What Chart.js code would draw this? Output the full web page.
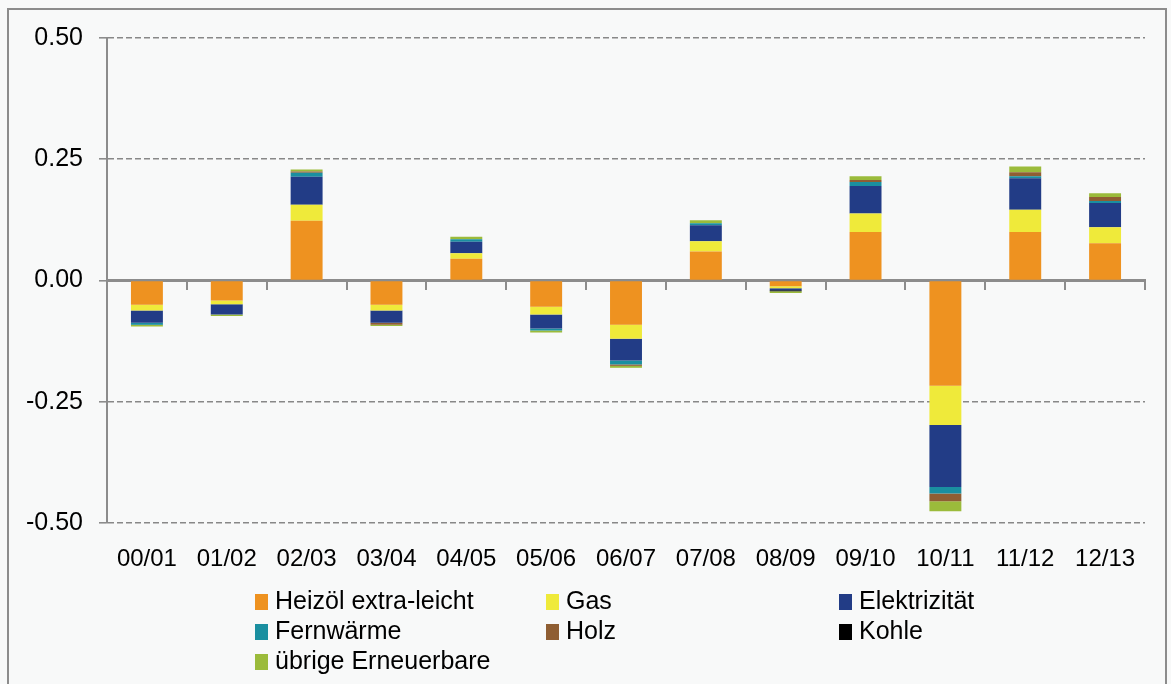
<!DOCTYPE html>
<html>
<head>
<meta charset="utf-8">
<script src="https://cdn.jsdelivr.net/npm/chart.js@4.4.1/dist/chart.umd.min.js"></script>
<style>
body{margin:0;background:#f8f9f9;font-family:"Liberation Sans",Arial,sans-serif;}
#frame{position:absolute;left:7px;top:8px;width:1160px;height:690px;border:2px solid #8c8c8c;box-sizing:border-box;}
#wrap{position:absolute;left:0;top:0;width:1171px;height:684px;}
.lg{position:absolute;font-size:25px;color:#000;line-height:28px;white-space:nowrap;}
.lg span{display:inline-block;width:13px;height:16px;margin-right:7px;vertical-align:-1px;}
</style>
</head>
<body>
<div id="frame"></div>
<div id="wrap"><canvas id="chart" width="1171" height="684"></canvas></div>
<div id="legend"></div>
<script>
const years = ["00/01","01/02","02/03","03/04","04/05","05/06","06/07","07/08","08/09","09/10","10/11","11/12","12/13"]

const heizoel = [-0.050,-0.041,0.123,-0.050,0.045,-0.054,-0.091,0.060,-0.012,0.100,-0.217,0.100,0.077]
const gas = [-0.012,-0.008,0.033,-0.012,0.011,-0.016,-0.029,0.021,-0.004,0.038,-0.081,0.046,0.033]
const elektrizitaet = [-0.025,-0.021,0.058,-0.025,0.024,-0.029,-0.045,0.033,-0.004,0.057,-0.128,0.065,0.050]
const fernwaerme = [-0.004,0,0.008,0,0.005,-0.004,-0.008,0.004,0,0.008,-0.013,0.004,0.004]
const holz = [0,0,0.003,-0.004,0,0,-0.003,0,0,0.004,-0.016,0.008,0.008]
const kohle = [-0.001,0,0,0,0,0,0,0,-0.002,0,0,0,0]
const erneuerbare = [-0.003,-0.003,0.004,-0.003,0.005,-0.004,-0.004,0.006,-0.004,0.008,-0.021,0.012,0.008]

const yTicks = [-0.5,-0.25,0,0.25,0.5]

const series = [
{label:"Heizöl extra-leicht", data:heizoel, color:"#ee9220"},
{label:"Gas", data:gas, color:"#efea3a"},
{label:"Elektrizität", data:elektrizitaet, color:"#223c86"},
{label:"Fernwärme", data:fernwaerme, color:"#1a8fa0"},
{label:"Holz", data:holz, color:"#8f5e33"},
{label:"Kohle", data:kohle, color:"#000000"},
{label:"übrige Erneuerbare", data:erneuerbare, color:"#9bbb3b"}
]

// legend positions (3 columns)
const legendPos = [[255,586],[546,586],[839,586],[255,616],[546,616],[839,616],[255,646]]
const legend = document.getElementById("legend")
series.forEach((s,i) => {
const d = document.createElement("div")
d.className = "lg"
d.style.left = legendPos[i][0] + "px"
d.style.top = legendPos[i][1] + "px"
d.innerHTML = '<span style="background:' + s.color + '"></span>' + s.label
legend.appendChild(d)
})

const ctx = document.getElementById("chart").getContext("2d")

new Chart(ctx, {
type: "bar",
data: {
labels: years,
datasets: series.map(s => ({
label: s.label,
data: s.data,
backgroundColor: s.color,
borderWidth: 0,
stack: "a"
}))
},
options: {
responsive: false,
animation: false,
layout: {padding: {top: 38, right: 26, left: 0, bottom: 106}},
plugins: {legend: {display: false}, tooltip: {enabled: false}},
datasets: {bar: {barPercentage: 1, categoryPercentage: 0.4}},
scales: {
x: {
type: "category",
stacked: true,
position: {y: 0},
offset: true,
ticks: {display: false},
grid: {offset: true, drawOnChartArea: false, drawTicks: true, tickLength: 8, color: "#8c8c8c", lineWidth: 2},
border: {color: "#8c8c8c", width: 3}
},
x2: {
type: "category",
position: "bottom",
offset: true,
grid: {display: false},
border: {display: false},
ticks: {color: "#000", font: {size: 24, family: "Liberation Sans"}, padding: 14},
afterFit: s => { s.height = 55 }
},
y: {
stacked: true,
min: -0.5,
max: 0.5,
afterBuildTicks: s => { s.ticks = yTicks.map(v => ({value: v})) },
afterFit: s => { s.width = 107 },
ticks: {
color: "#000",
font: {size: 25, family: "Liberation Sans"},
padding: 16,
callback: v => Number(v).toFixed(2)
},
grid: {
color: c => c.tick && c.tick.value === 0 ? "rgba(0,0,0,0)" : "#888888",
tickColor: "#8c8c8c",
lineWidth: 1.6,
tickLength: 8
},
border: {color: "#8c8c8c", width: 2, dash: [6,3]}
}
}
}
})
</script>
</body>
</html>
